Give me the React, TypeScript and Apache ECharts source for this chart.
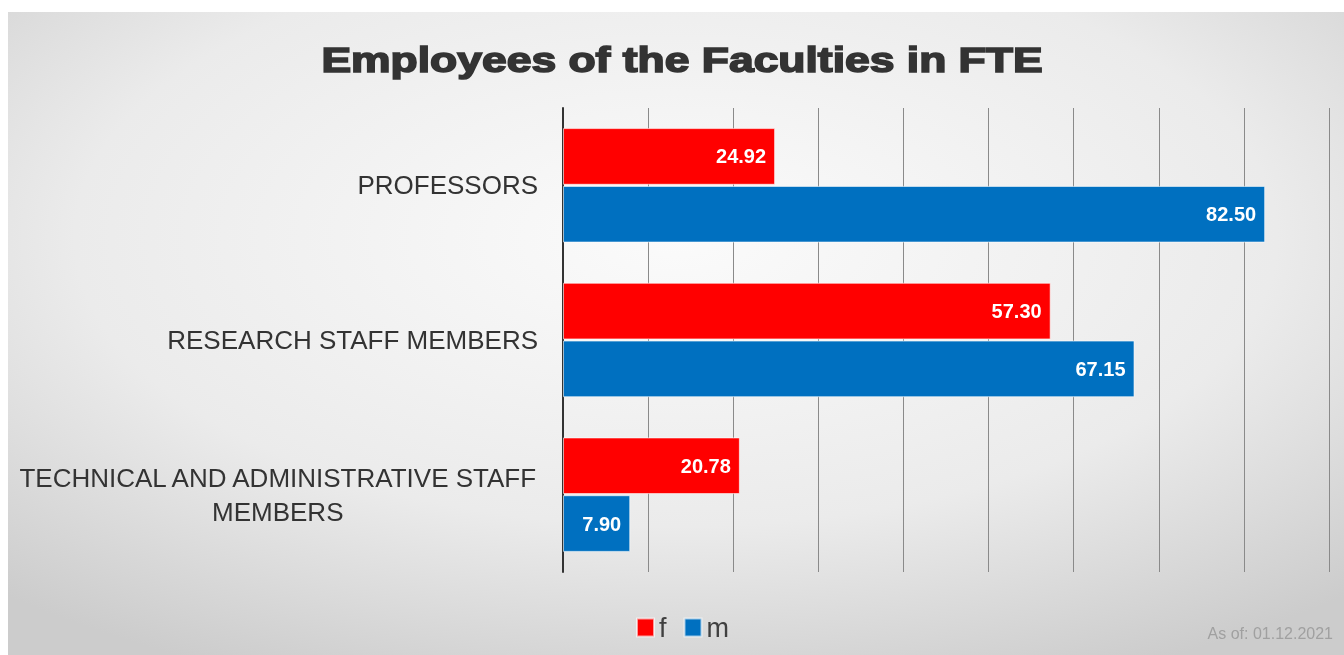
import React, { useEffect, useRef } from "react";
import * as echarts from "echarts";

const categories = [
  "PROFESSORS",
  "RESEARCH STAFF MEMBERS",
  "TECHNICAL AND ADMINISTRATIVE STAFF\nMEMBERS",
];
const femaleValues = [24.92, 57.3, 20.78];
const maleValues = [82.5, 67.15, 7.9];
const seriesNames = ["f", "m"];
const titleText = "Employees of the Faculties in FTE";
const footnote = "As of: 01.12.2021";

export default function App() {
  const ref = useRef<HTMLDivElement>(null);
  useEffect(() => {
    if (!ref.current) return;
    const chart = echarts.init(ref.current, undefined, { renderer: "svg" });
    const font = "Liberation Sans, Arial, sans-serif";
    const valueLabel = {
      show: true,
      position: "insideRight",
      distance: 9,
      color: "#ffffff",
      fontFamily: font,
      fontWeight: "bold",
      fontSize: 20,
      formatter: (p: any) => Number(p.value).toFixed(2),
    };
    chart.setOption({
      animation: false,
      graphic: [
        {
          type: "rect",
          z: -10,
          silent: true,
          shape: { x: 8, y: 12, width: 1336, height: 643 },
          style: {
            fill: new echarts.graphic.RadialGradient(0.5, 0.35, 0.75, [
              { offset: 0, color: "#fbfbfb" },
              { offset: 0.6, color: "#ebebeb" },
              { offset: 1, color: "#cccccc" },
            ]),
          },
        },
        {
          type: "text",
          x: 682,
          y: 60,
          scaleX: 1.27,
          silent: true,
          style: {
            text: titleText,
            fill: "#333333",
            stroke: "#333333",
            lineWidth: 1.6,
            fontSize: 35,
            fontWeight: "bold",
            fontFamily: font,
            textAlign: "center",
            textVerticalAlign: "middle",
          },
        },
        {
          type: "text",
          x: 1333,
          y: 633,
          silent: true,
          style: {
            text: footnote,
            fill: "#a0a0a0",
            fontSize: 16,
            fontFamily: font,
            textAlign: "right",
            textVerticalAlign: "middle",
          },
        },
      ],
      legend: {
        data: seriesNames,
        left: 631,
        top: 609,
        icon: "rect",
        itemWidth: 17,
        itemHeight: 18,
        itemGap: 17,
        textStyle: {
          fontSize: 27,
          color: "#404040",
          fontFamily: font,
        },
      },
      grid: { left: 563, right: 15, top: 108, bottom: 83, containLabel: false },
      xAxis: {
        type: "value",
        min: 0,
        max: 90,
        interval: 10,
        axisLabel: { show: false },
        axisLine: { show: false },
        axisTick: { show: false },
        splitLine: { show: true, lineStyle: { color: "#8a8a8a", width: 1 } },
      },
      yAxis: {
        type: "category",
        data: categories,
        inverse: true,
        axisTick: { show: false },
        axisLine: { show: true, lineStyle: { color: "#333333", width: 2 } },
        axisLabel: {
          margin: 25,
          fontSize: 26,
          color: "#333333",
          fontFamily: font,
          lineHeight: 34,
          formatter: (v: string) =>
            v
              .split("\n")
              .map((l) => "{c|" + l + "}")
              .join("\n"),
          rich: {
            c: {
              align: "center",
              fontSize: 26,
              color: "#333333",
              lineHeight: 34,
              fontFamily: font,
            },
          },
        },
      },
      series: [
        {
          name: seriesNames[0],
          type: "bar",
          data: femaleValues,
          barGap: "2%",
          barCategoryGap: "26%",
          itemStyle: { color: "#ff0000", borderColor: "rgba(255,255,255,0.6)", borderWidth: 1 },
          label: valueLabel,
        },
        {
          name: seriesNames[1],
          type: "bar",
          data: maleValues,
          barGap: "2%",
          barCategoryGap: "26%",
          itemStyle: { color: "#0070c0", borderColor: "rgba(255,255,255,0.6)", borderWidth: 1 },
          label: valueLabel,
        },
      ],
    });
    return () => chart.dispose();
  }, []);
  return (
    <div
      ref={ref}
      style={{ position: "fixed", left: 0, top: 0, width: 1344, height: 655 }}
    />
  );
}
